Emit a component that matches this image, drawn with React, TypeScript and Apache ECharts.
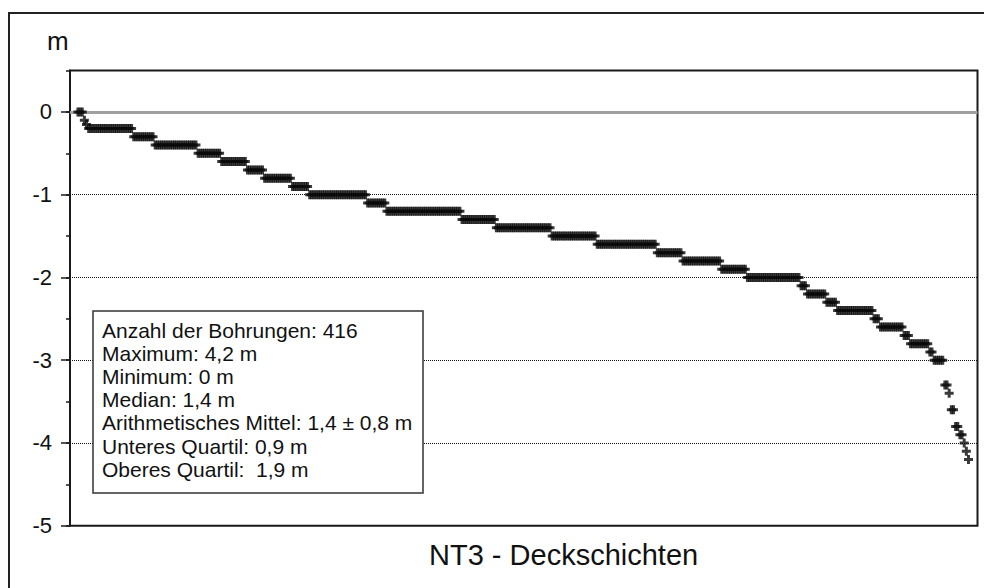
import React, { useEffect, useRef } from "react";
import * as echarts from "echarts";

// Depth levels (m, negative = below surface) and number of boreholes at each level, sorted
const depthLevels = [0, -0.1, -0.15, -0.2, -0.3, -0.4, -0.5, -0.6, -0.7, -0.8, -0.9, -1.0, -1.1, -1.2, -1.3, -1.4, -1.5, -1.6, -1.7, -1.8, -1.9, -2.0, -2.1, -2.2, -2.3, -2.4, -2.5, -2.6, -2.7, -2.8, -2.9, -3.0, -3.3, -3.4, -3.6, -3.8, -3.9, -4.0, -4.1, -4.2];
const boreholeCounts = [3, 1, 1, 21, 10, 20, 11, 12, 8, 13, 8, 27, 9, 35, 16, 26, 21, 28, 12, 18, 12, 25, 3, 9, 5, 17, 3, 11, 3, 9, 2, 5, 2, 1, 2, 2, 2, 1, 1, 1];

const yTickValues = [-5, -4, -3, -2, -1, 0];
const statsLines = [
  "Anzahl der Bohrungen: 416",
  "Maximum: 4,2 m",
  "Minimum: 0 m",
  "Median: 1,4 m",
  "Arithmetisches Mittel: 1,4 ± 0,8 m",
  "Unteres Quartil: 0,9 m",
  "Oberes Quartil:  1,9 m",
];
const chartTitle = "NT3 - Deckschichten";
const unitLabel = "m";

const FONT = "'Liberation Sans', Arial, sans-serif";
const PLUS = "path://M3,0H6V3H9V6H6V9H3V6H0V3H3Z";

export default function App() {
  const ref = useRef<HTMLDivElement>(null);
  useEffect(() => {
    if (!ref.current) return;
    const chart = echarts.init(ref.current, undefined, { renderer: "svg" });
    const points: [number, number][] = [];
    let idx = 1;
    depthLevels.forEach((d, k) => {
      for (let j = 0; j < boreholeCounts[k]; j++) {
        points.push([idx, d]);
        idx++;
      }
    });
    const gridRect = { left: 70, right: 6.5, top: 70.6, bottom: 62.3 };
    const xBase = {
      type: "value",
      min: -2.7,
      max: 420.2,
      axisLine: { show: false, onZero: false },
      axisTick: { show: false },
      axisLabel: { show: false },
      splitLine: { show: false },
    };
    chart.setOption({
      animation: false,
      backgroundColor: "#fff",
      textStyle: { fontFamily: FONT },
      grid: [
        {
          ...gridRect,
          show: true,
          borderColor: "#1a1a1a",
          borderWidth: 2,
          backgroundColor: "transparent",
        },
        { ...gridRect, show: false },
      ],
      xAxis: [
        { ...xBase, gridIndex: 0 },
        { ...xBase, gridIndex: 1 },
      ],
      yAxis: [
        {
          type: "value",
          gridIndex: 0,
          min: -5,
          max: 0.5,
          interval: 0.5,
          position: "left",
          offset: 0,
          axisLine: { show: true, onZero: false, lineStyle: { color: "#1a1a1a", width: 2 } },
          axisTick: { show: true, length: 4, lineStyle: { color: "#1a1a1a", width: 1.5 } },
          axisLabel: { show: false },
          splitLine: { show: false },
        },
        {
          type: "value",
          gridIndex: 1,
          min: -5,
          max: 0.5,
          interval: 1,
          position: "left",
          offset: 0,
          axisLine: { show: false, onZero: false },
          axisTick: { show: true, length: 9, customValues: yTickValues, lineStyle: { color: "#1a1a1a", width: 1.5 } },
          axisLabel: {
            show: true,
            margin: 18,
            fontSize: 22,
            color: "#111",
            fontFamily: FONT,
            customValues: yTickValues,
            formatter: (v: number) => (Number.isInteger(v) ? String(v) : ""),
          },
          splitLine: { show: true, lineStyle: { color: "#111", type: [1, 1], width: 1 } },
        },
      ],
      series: [
        {
          type: "scatter",
          xAxisIndex: 0,
          yAxisIndex: 0,
          data: points,
          symbol: PLUS,
          symbolSize: [9, 9],
          itemStyle: { color: "#0a0a0a" },
          silent: true,
          z: 3,
          markLine: {
            silent: true,
            symbol: ["none", "none"],
            label: { show: false },
            lineStyle: { color: "#a0a0a0", width: 3, type: "solid" },
            data: [{ yAxis: 0 }],
            z: 1,
          },
        },
      ],
      graphic: [
        {
          type: "rect",
          shape: { x: 9, y: 13, width: 1000, height: 600 },
          style: { fill: "none", stroke: "#222", lineWidth: 2 },
          silent: true,
        },
        {
          type: "text",
          x: 47,
          y: 41,
          style: { text: unitLabel, font: `26px ${FONT}`, fill: "#111", textVerticalAlign: "middle" },
        },
        {
          type: "text",
          x: 429,
          y: 555,
          style: { text: chartTitle, font: `29px ${FONT}`, fill: "#111", textVerticalAlign: "middle" },
        },
        {
          type: "rect",
          z: 100,
          shape: { x: 93, y: 311, width: 330, height: 182 },
          style: { fill: "#fff", stroke: "#333", lineWidth: 1.5 },
        },
        ...statsLines.map((line, i) => ({
          type: "text",
          z: 101,
          x: 102,
          y: 330 + i * 23.2,
          style: { text: line, font: `21px ${FONT}`, fill: "#111", textVerticalAlign: "middle" },
        })),
      ],
    });
    return () => chart.dispose();
  }, []);
  return (
    <div
      ref={ref}
      style={{ position: "fixed", left: 0, top: 0, width: 984, height: 588, background: "#fff" }}
    />
  );
}
